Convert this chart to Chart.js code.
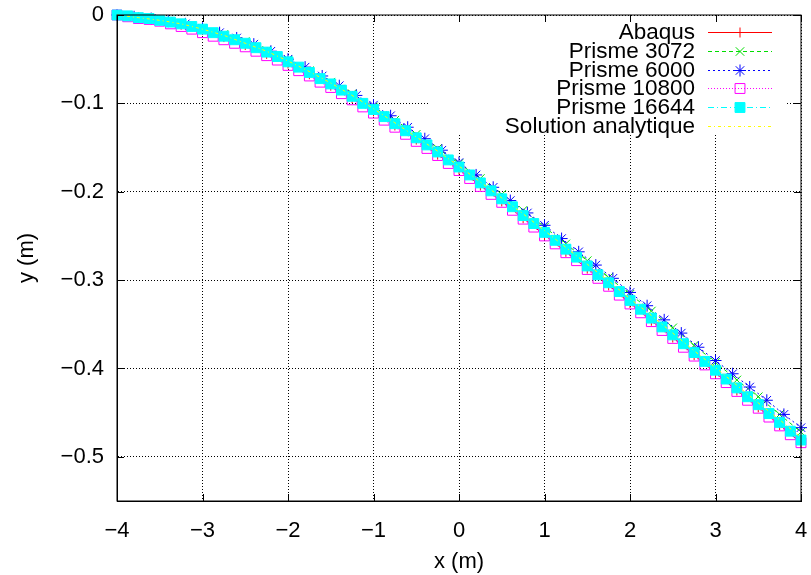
<!DOCTYPE html>
<html>
<head>
<meta charset="utf-8">
<script src="https://cdn.jsdelivr.net/npm/chart.js@4/dist/chart.umd.min.js"></script>
<style>
  html, body { margin: 0; padding: 0; background: #fff; }
  #wrap { width: 811px; height: 575px; }
</style>
</head>
<body>
<div id="wrap"><canvas id="deflection"></canvas></div>
<script>
// Beam deflection: x (m) vs y (m)

const xTicks = [-4, -3, -2, -1, 0, 1, 2, 3, 4];
const yTicks = [0, -0.1, -0.2, -0.3, -0.4, -0.5];

// node positions
const xCoarse = [-4, -3.75, -3.5, -3.25, -3, -2.75, -2.5, -2.25, -2, -1.75, -1.5, -1.25, -1, -0.75, -0.5, -0.25,
    0, 0.25, 0.5, 0.75, 1, 1.25, 1.5, 1.75, 2, 2.25, 2.5, 2.75, 3, 3.25, 3.5, 3.75, 4];
const xMid = [-4, -3.8, -3.6, -3.4, -3.2, -3, -2.8, -2.6, -2.4, -2.2, -2, -1.8, -1.6, -1.4, -1.2, -1, -0.8, -0.6, -0.4, -0.2,
    0, 0.2, 0.4, 0.6, 0.8, 1, 1.2, 1.4, 1.6, 1.8, 2, 2.2, 2.4, 2.6, 2.8, 3, 3.2, 3.4, 3.6, 3.8, 4];
const xFine = [-4, -3.875, -3.75, -3.625, -3.5, -3.375, -3.25, -3.125, -3, -2.875, -2.75, -2.625, -2.5, -2.375, -2.25, -2.125,
    -2, -1.875, -1.75, -1.625, -1.5, -1.375, -1.25, -1.125, -1, -0.875, -0.75, -0.625, -0.5, -0.375, -0.25, -0.125,
    0, 0.125, 0.25, 0.375, 0.5, 0.625, 0.75, 0.875, 1, 1.125, 1.25, 1.375, 1.5, 1.625, 1.75, 1.875,
    2, 2.125, 2.25, 2.375, 2.5, 2.625, 2.75, 2.875, 3, 3.125, 3.25, 3.375, 3.5, 3.625, 3.75, 3.875, 4];

// series values
const yAbaqus = [0, -0.003, -0.006, -0.011, -0.017, -0.025, -0.034, -0.044, -0.055, -0.067, -0.080, -0.094, -0.109, -0.125, -0.141, -0.158,
    -0.175, -0.193, -0.211, -0.230, -0.249, -0.268, -0.287, -0.306, -0.326, -0.346, -0.365, -0.385, -0.405, -0.425, -0.444, -0.464, -0.484];
const yPrisme3072 = [0, -0.003, -0.006, -0.010, -0.015, -0.022, -0.030, -0.040, -0.051, -0.063, -0.076, -0.089, -0.104, -0.119, -0.135, -0.151,
    -0.168, -0.185, -0.203, -0.221, -0.240, -0.259, -0.278, -0.297, -0.316, -0.335, -0.354, -0.374, -0.393, -0.413, -0.432, -0.452, -0.472];
const yPrisme6000 = [0, -0.002, -0.004, -0.007, -0.010, -0.015, -0.020, -0.026, -0.033, -0.041, -0.050, -0.059, -0.069, -0.080, -0.091, -0.102,
    -0.114, -0.127, -0.140, -0.153, -0.167, -0.181, -0.195, -0.210, -0.224, -0.238, -0.253, -0.268, -0.283, -0.298, -0.314,
    -0.329, -0.345, -0.360, -0.376, -0.391, -0.406, -0.421, -0.436, -0.452, -0.467];
const yPrisme10800 = [0, -0.002, -0.004, -0.005, -0.007, -0.010, -0.013, -0.016, -0.020, -0.024, -0.028, -0.032, -0.036, -0.041, -0.046, -0.051,
    -0.057, -0.063, -0.069, -0.076, -0.082, -0.089, -0.096, -0.104, -0.111, -0.119, -0.127, -0.135, -0.143, -0.151, -0.159, -0.168,
    -0.176, -0.185, -0.194, -0.203, -0.212, -0.221, -0.231, -0.240, -0.250, -0.259, -0.269, -0.278, -0.288, -0.298, -0.307, -0.317,
    -0.327, -0.337, -0.347, -0.357, -0.366, -0.376, -0.386, -0.396, -0.406, -0.416, -0.426, -0.436, -0.445, -0.455, -0.465, -0.475, -0.484];
const yPrisme16644 = [0, -0.001, -0.003, -0.004, -0.006, -0.008, -0.010, -0.013, -0.016, -0.020, -0.024, -0.028, -0.032, -0.037, -0.042, -0.047,
    -0.053, -0.059, -0.065, -0.072, -0.078, -0.085, -0.092, -0.100, -0.107, -0.115, -0.123, -0.131, -0.139, -0.147, -0.155, -0.164,
    -0.172, -0.181, -0.190, -0.199, -0.208, -0.217, -0.227, -0.236, -0.246, -0.255, -0.265, -0.274, -0.284, -0.294, -0.303, -0.313,
    -0.323, -0.333, -0.343, -0.353, -0.362, -0.372, -0.382, -0.392, -0.402, -0.412, -0.422, -0.432, -0.441, -0.451, -0.461, -0.471, -0.481];
const yAnalytic = [0, -0.003, -0.006, -0.010, -0.016, -0.023, -0.032, -0.041, -0.052, -0.064, -0.077, -0.091, -0.106, -0.122, -0.138, -0.154,
    -0.171, -0.189, -0.207, -0.225, -0.244, -0.263, -0.282, -0.301, -0.321, -0.340, -0.360, -0.380, -0.399, -0.419, -0.439, -0.458, -0.478];

const FONT = '"Liberation Sans", Arial, Helvetica, sans-serif';

function pts(xs, ys) {
    return xs.map((x, i) => ({ x: x, y: ys[i] }));
}

function fmt(v) {
    return v === 0 ? '0' : String(v).replace('-', '\u2212');
}

function series(label, xs, ys, color, dash, style, radius, fill, order) {
    return {
        label: label,
        data: pts(xs, ys),
        borderColor: color,
        borderWidth: 1,
        borderDash: dash,
        pointStyle: style,
        pointRadius: radius,
        pointBorderColor: color,
        pointBackgroundColor: fill,
        pointBorderWidth: 1,
        pointHoverRadius: radius,
        tension: 0,
        clip: false,
        order: order
    };
}

const datasets = [
    series('Abaqus', xCoarse, yAbaqus, '#ff0000', [], 'cross', 5, 'rgba(0,0,0,0)', 5),
    series('Prisme 3072', xCoarse, yPrisme3072, '#00dd00', [4, 3], 'crossRot', 6, 'rgba(0,0,0,0)', 4),
    series('Prisme 6000', xMid, yPrisme6000, '#0000ff', [2, 3], 'star', 6, 'rgba(0,0,0,0)', 3),
    series('Prisme 10800', xFine, yPrisme10800, '#ff00ff', [1, 2], 'rect', 7, 'rgba(0,0,0,0)', 2),
    series('Prisme 16644', xFine, yPrisme16644, '#00ffff', [6, 3, 1, 3], 'rect', 7, '#00ffff', 1),
    series('Solution analytique', xCoarse, yAnalytic, '#ffff00', [3, 3, 1, 3], 'circle', 0, '#ffff00', 0)
];

// gnuplot look: opaque key box, full frame with inward ticks, right aligned key text
const gnuplotFrame = {
    id: 'gnuplotFrame',
    beforeDatasetsDraw(chart) {
        const ctx = chart.ctx;
        const area = chart.chartArea;
        ctx.save();
        ctx.fillStyle = '#ffffff';
        ctx.fillRect(430, area.top + 1, 355, 119);
        ctx.restore();
    },
    afterDatasetsDraw(chart) {
        const ctx = chart.ctx;
        const area = chart.chartArea;
        const xs = chart.scales.x;
        const ys = chart.scales.y;
        ctx.save();

        // frame
        ctx.strokeStyle = '#000';
        ctx.lineWidth = 1;
        ctx.setLineDash([]);
        ctx.strokeRect(area.left, area.top, area.right - area.left, area.bottom - area.top);

        // inward ticks on all four sides
        const tl = 7;
        ctx.beginPath();
        xTicks.forEach(v => {
            const px = Math.round(xs.getPixelForValue(v)) + 0.5;
            ctx.moveTo(px, area.bottom); ctx.lineTo(px, area.bottom - tl);
            ctx.moveTo(px, area.top); ctx.lineTo(px, area.top + tl);
        });
        yTicks.forEach(v => {
            const py = Math.round(ys.getPixelForValue(v)) + 0.5;
            ctx.moveTo(area.left, py); ctx.lineTo(area.left + tl, py);
            ctx.moveTo(area.right, py); ctx.lineTo(area.right - tl, py);
        });
        ctx.stroke();

        // key
        const textRight = 695;
        const sampleL = 708;
        const sampleR = 772;
        const rowTop = 32;
        const rowStep = 18.8;
        ctx.font = '22.5px ' + FONT;
        ctx.textAlign = 'right';
        ctx.textBaseline = 'middle';
        chart.data.datasets.forEach((ds, i) => {
            const y = Math.round(rowTop + i * rowStep) + 0.5;
            ctx.fillStyle = '#000';
            ctx.fillText(ds.label, textRight, y);
            ctx.strokeStyle = ds.borderColor;
            ctx.lineWidth = 1;
            ctx.setLineDash(ds.borderDash);
            ctx.beginPath();
            ctx.moveTo(sampleL, y);
            ctx.lineTo(sampleR, y);
            ctx.stroke();
            ctx.setLineDash([]);
            if (ds.pointRadius > 0) {
                ctx.fillStyle = ds.pointBackgroundColor;
                ctx.strokeStyle = ds.pointBorderColor;
                Chart.helpers.drawPoint(ctx, {
                    pointStyle: ds.pointStyle,
                    rotation: 0,
                    radius: ds.pointRadius,
                    borderWidth: 1
                }, (sampleL + sampleR) / 2, y);
            }
        });
        ctx.restore();
    }
};

new Chart(document.getElementById('deflection'), {
    type: 'line',
    data: { datasets: datasets },
    options: {
        responsive: true,
        maintainAspectRatio: false,
        animation: false,
        events: [],
        layout: { padding: { left: 0, right: 10, top: 15, bottom: 0 } },
        plugins: {
            legend: { display: false },
            tooltip: { enabled: false }
        },
        scales: {
            x: {
                type: 'linear',
                min: -4,
                max: 4,
                afterBuildTicks: scale => { scale.ticks = xTicks.map(v => ({ value: v })); },
                afterFit: scale => {
                    scale.height = 74;
                    scale.paddingLeft = 0;
                    scale.paddingRight = 0;
                },
                ticks: {
                    color: '#000',
                    padding: 17,
                    maxRotation: 0,
                    font: { family: FONT, size: 22 },
                    callback: v => fmt(v)
                },
                grid: { color: '#000', lineWidth: 1, drawTicks: false },
                border: { color: '#000', width: 1, dash: [1, 2] },
                title: {
                    display: true,
                    text: 'x (m)',
                    color: '#000',
                    font: { family: FONT, size: 22 },
                    padding: { top: 0, bottom: 0 }
                }
            },
            y: {
                type: 'linear',
                min: -0.55,
                max: 0,
                afterBuildTicks: scale => { scale.ticks = yTicks.map(v => ({ value: v })); },
                afterFit: scale => {
                    scale.width = 117;
                    scale.paddingTop = 0;
                    scale.paddingBottom = 0;
                },
                ticks: {
                    color: '#000',
                    padding: 13,
                    font: { family: FONT, size: 22 },
                    callback: v => fmt(v)
                },
                grid: { color: '#000', lineWidth: 1, drawTicks: false },
                border: { color: '#000', width: 1, dash: [1, 2] },
                title: {
                    display: true,
                    text: 'y (m)',
                    color: '#000',
                    font: { family: FONT, size: 22 },
                    padding: { top: 14, bottom: 0 }
                }
            }
        }
    },
    plugins: [gnuplotFrame]
});
</script>
</body>
</html>
